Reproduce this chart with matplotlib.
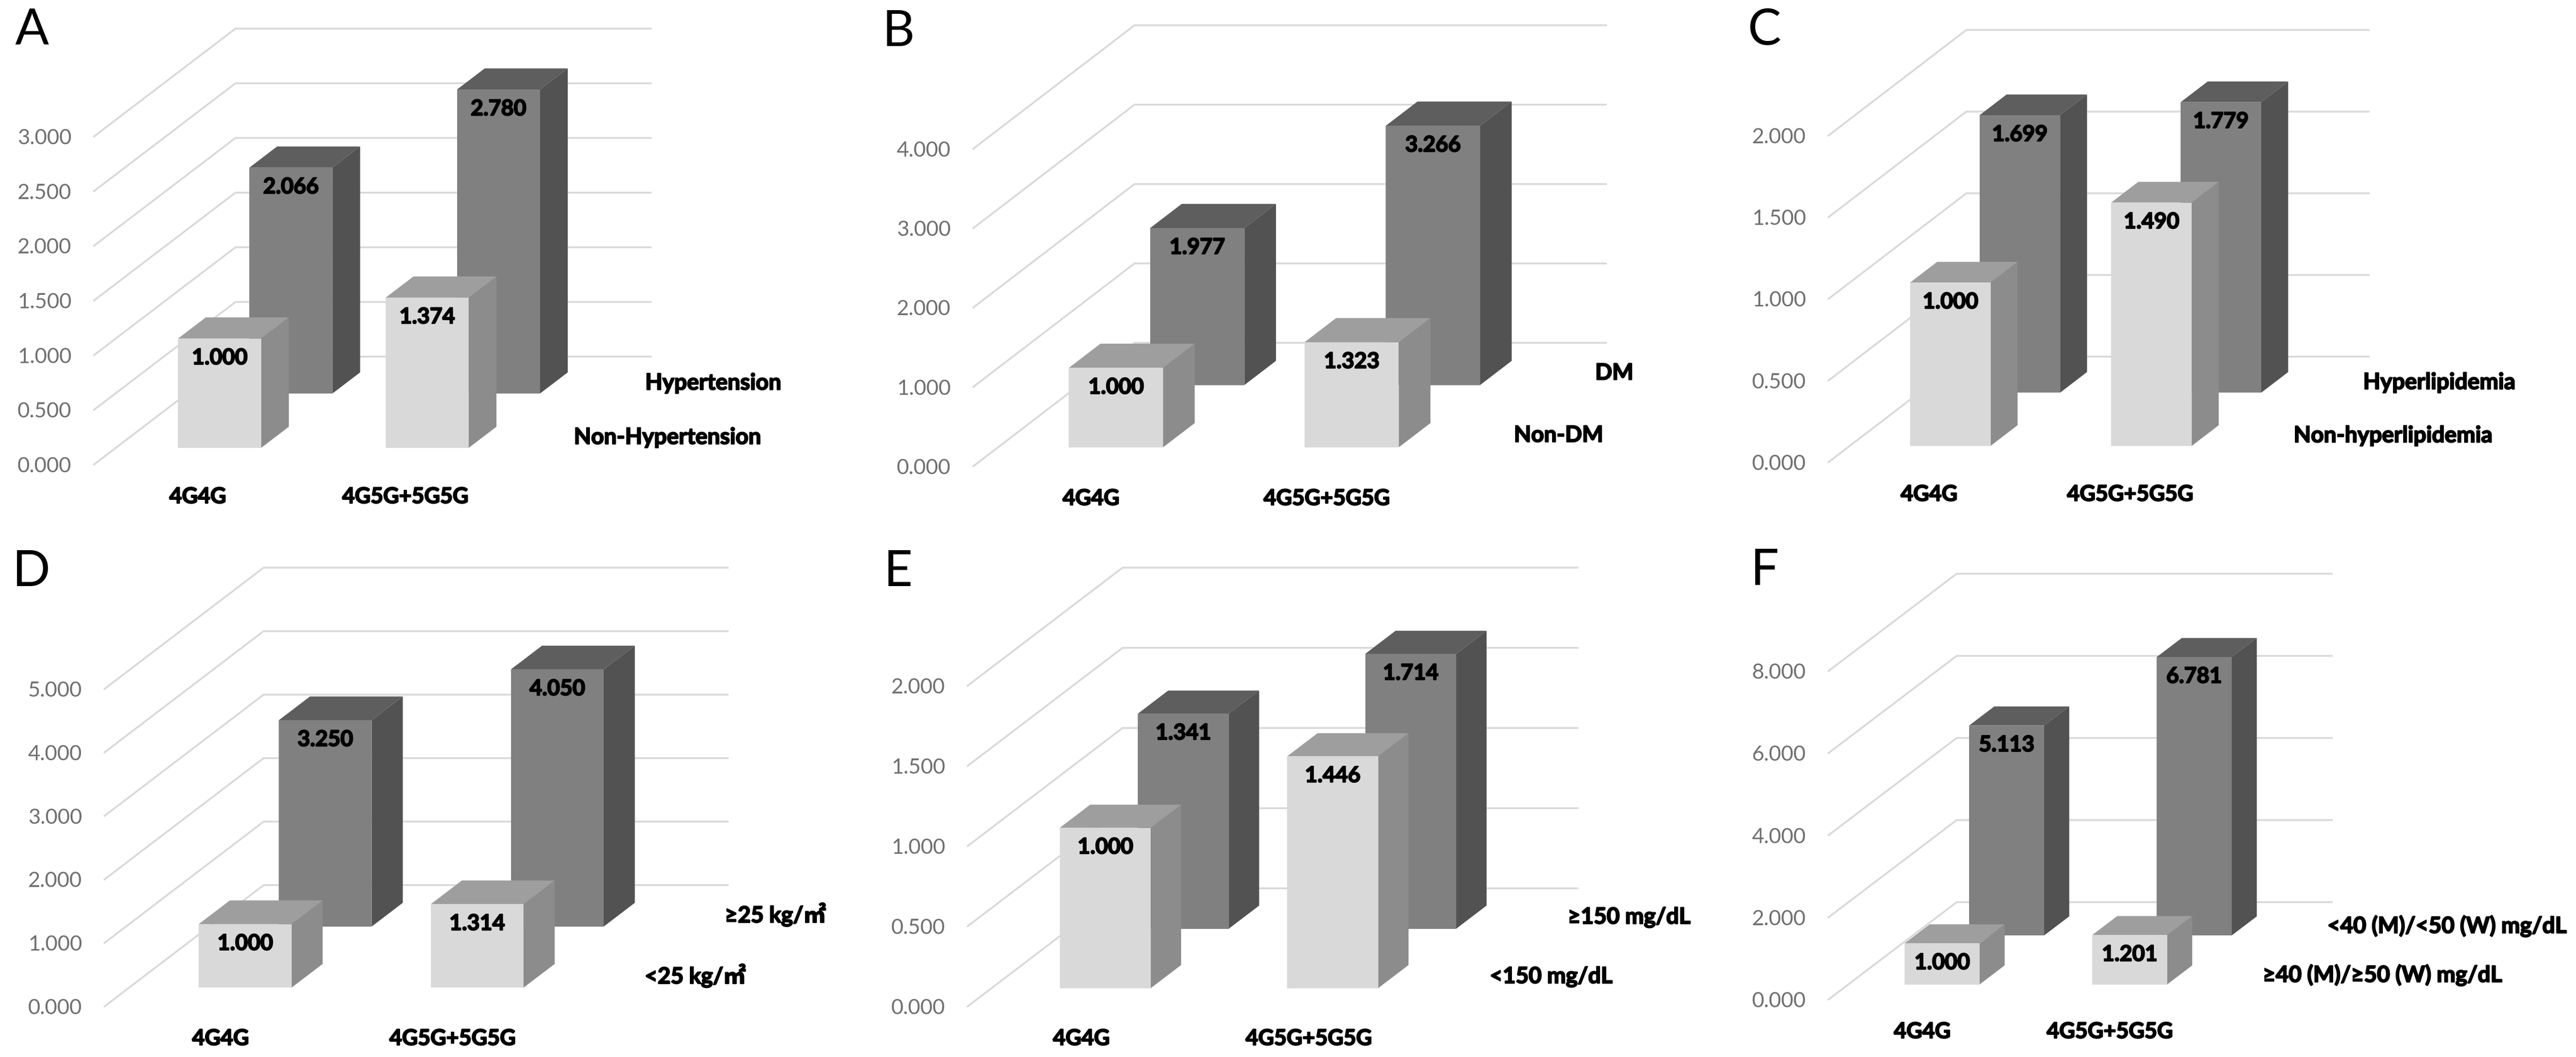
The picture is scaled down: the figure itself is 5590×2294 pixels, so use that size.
import matplotlib
matplotlib.use('Agg')
import matplotlib.pyplot as plt
import matplotlib.patheffects as pe
from matplotlib.patches import Polygon

plt.rcParams['font.family'] = ['Lato', 'Noto Sans CJK SC', 'DejaVu Sans']

W, H = 5590, 2294
DPI = 100
PT = 72 / DPI  # points per output pixel

genotypes = ['4G4G', '4G5G+5G5G']
letters = ['A', 'B', 'C', 'D', 'E', 'F']
front_values = [
    [1.000, 1.374], [1.000, 1.323], [1.000, 1.490],
    [1.000, 1.314], [1.000, 1.446], [1.000, 1.201],
]
back_values = [
    [2.066, 2.780], [1.977, 3.266], [1.699, 1.779],
    [3.250, 4.050], [1.341, 1.714], [5.113, 6.781],
]
front_names = ['Non-Hypertension', 'Non-DM', 'Non-hyperlipidemia',
               '<25 kg/㎡', '<150 mg/dL', '≥40 (M)/≥50 (W) mg/dL']
back_names = ['Hypertension', 'DM', 'Hyperlipidemia',
              '≥25 kg/㎡', '≥150 mg/dL', '<40 (M)/<50 (W) mg/dL']
y_ticks = [
    [0, 0.5, 1, 1.5, 2, 2.5, 3],
    [0, 1, 2, 3, 4],
    [0, 0.5, 1, 1.5, 2],
    [0, 1, 2, 3, 4, 5],
    [0, 0.5, 1, 1.5, 2],
    [0, 2, 4, 6, 8],
]

# layout in output pixels: front-left x, front-right x, zero y, depth x, depth y,
# pixels per unit, series label offset, panel letter centre
layout = [
    (204, 1105, 1008, 307, 234, 237.3, 63, (69, 66)),
    (2112, 3135, 1012, 350, 268, 172.3, 62, (1949, 70)),
    (3968, 4841, 1003, 299, 229, 354.5, 61, (3829, 67)),
    (227, 1234, 2184, 345, 263, 137.8, 78, (67, 1241)),
    (2100, 3087, 2184, 336, 256, 348, 61, (1948, 1241)),
    (3968, 4782, 2169, 278, 211, 89.1, 58, (3829, 1239)),
]

FRONT_D, BACK_D, BAR_D = 0.154, 0.658, 0.196
BAR_W = 0.40
LIGHT = ('#d9d9d9', '#8c8c8c', '#9e9e9e')
DARK = ('#808080', '#525252', '#5e5e5e')
GRID = '#d9d9d9'
FS = 33
HEAVY = [pe.withStroke(linewidth=2.5 * PT, foreground='black')]  # thickens the bold labels


def draw_bar(ax, xc, val, d, colors, shift):
    sx, sy = shift
    def pt(x, v, dd):
        return (x + dd * sx, v + dd * sy)
    l, r = xc - BAR_W / 2, xc + BAR_W / 2
    d2 = d + BAR_D
    ax.add_patch(Polygon([pt(r, 0, d), pt(r, 0, d2), pt(r, val, d2), pt(r, val, d)],
                         fc=colors[1], ec='none', clip_on=False, zorder=3))
    ax.add_patch(Polygon([pt(l, val, d), pt(r, val, d), pt(r, val, d2), pt(l, val, d2)],
                         fc=colors[2], ec='none', clip_on=False, zorder=3))
    ax.add_patch(Polygon([pt(l, 0, d), pt(r, 0, d), pt(r, val, d), pt(l, val, d)],
                         fc=colors[0], ec='none', clip_on=False, zorder=3))
    ax.annotate('%.3f' % val, pt(xc, val, d), xytext=(0, -42 * PT), textcoords='offset points',
                ha='center', va='center', fontsize=FS + 1, fontweight='bold', color='black',
                zorder=4, annotation_clip=False, path_effects=HEAVY)


fig = plt.figure(figsize=(W / DPI, H / DPI), dpi=DPI, facecolor='white')

for i in range(6):
    x0, x1, y0, dx, dy, unit, off, letter_xy = layout[i]
    ticks = y_ticks[i]
    ymax = ticks[-1]
    ax = fig.add_axes([x0 / W, 1 - y0 / H, (x1 - x0) / W, ymax * unit / H])
    ax.set_xlim(0, 2)
    ax.set_ylim(0, ymax)
    ax.patch.set_visible(False)
    for s in ax.spines.values():
        s.set_visible(False)
    shift = (dx / ((x1 - x0) / 2), dy / unit)

    for t in ticks:
        ax.plot([0, shift[0], 2 + shift[0]], [t, t + shift[1], t + shift[1]],
                color=GRID, lw=4 * PT, clip_on=False, zorder=1, solid_joinstyle='miter')

    ax.set_yticks(ticks)
    ax.set_yticklabels(['%.3f' % t for t in ticks], fontsize=FS, color='#707070')
    ax.set_xticks([0.5, 1.5])
    ax.set_xticklabels(genotypes, fontsize=FS + 1, fontweight='bold', color='black',
                       path_effects=HEAVY)
    ax.tick_params(axis='y', length=0, pad=49 * PT)
    ax.tick_params(axis='x', length=0, pad=48 * PT)

    for j in range(2):
        draw_bar(ax, j + 0.5, back_values[i][j], BACK_D, DARK, shift)
    for j in range(2):
        draw_bar(ax, j + 0.5, front_values[i][j], FRONT_D, LIGHT, shift)

    for name, d in ((front_names[i], FRONT_D), (back_names[i], BACK_D)):
        dm = d + BAR_D / 2
        ax.annotate(name, (2 + dm * shift[0], dm * shift[1]), xytext=(off * PT, 0),
                    textcoords='offset points', ha='left', va='center', fontsize=FS + 2,
                    fontweight='bold', color='black', annotation_clip=False,
                    path_effects=HEAVY)

    fig.text(letter_xy[0] / W, 1 - letter_xy[1] / H, letters[i], fontsize=78,
             ha='center', va='center', color='black')

fig.savefig('out.png', dpi=DPI)
